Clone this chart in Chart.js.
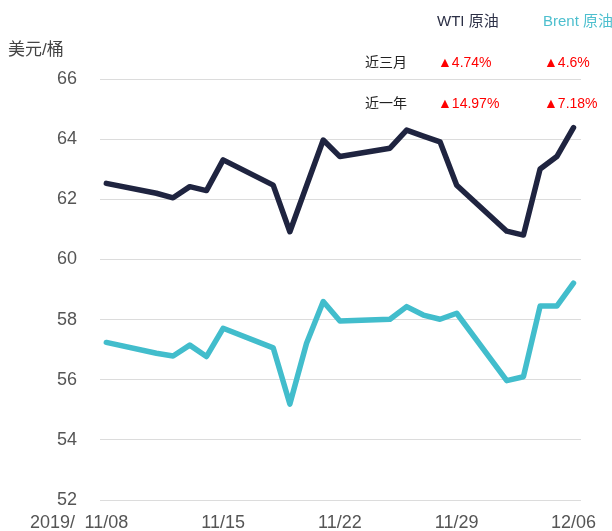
<!DOCTYPE html>
<html>
<head>
<meta charset="utf-8">
<script src="https://cdn.jsdelivr.net/npm/chart.js@4"></script>
<style>
  body { margin: 0; background: #fff; }
  #wrap { position: relative; width: 612px; height: 531px; font-family: "Liberation Sans", Arial, "Noto Sans CJK SC", sans-serif; }
  #wrap canvas { position: absolute; left: 0; top: 0; }
  .txt { position: absolute; line-height: 20px; height: 20px; white-space: nowrap; }
  .up { color: #ff0000; font-size: 14px; }
  .row { color: #222; font-size: 14px; }
</style>
</head>
<body>
<div id="wrap">
  <canvas id="oilChart" width="612" height="531"></canvas>
  <div class="txt" style="left:8px; top:40px; font-size:17px; color:#444;">美元/桶</div>
  <div class="txt" style="left:30px; top:512px; font-size:18px; color:#555;">2019/</div>
  <div class="txt" style="left:437px; top:11px; font-size:15px; color:#2b2f45;">WTI 原油</div>
  <div class="txt" style="left:543px; top:11px; font-size:15px; color:#4dbfce;">Brent 原油</div>
  <div class="txt row" style="left:365px; top:52px;">近三月</div>
  <div class="txt up" style="left:438px; top:52px;">▲4.74%</div>
  <div class="txt up" style="left:544px; top:52px;">▲4.6%</div>
  <div class="txt row" style="left:365px; top:93px;">近一年</div>
  <div class="txt up" style="left:438px; top:93px;">▲14.97%</div>
  <div class="txt up" style="left:544px; top:93px;">▲7.18%</div>
</div>
<script>
// trading days, 2019
const dates = ['11/08', '11/11', '11/12', '11/13', '11/14', '11/15', '11/18', '11/19', '11/20', '11/21', '11/22',
               '11/25', '11/26', '11/27', '11/28', '11/29', '12/02', '12/03', '12/04', '12/05', '12/06'];
const wti   = [62.53, 62.2, 62.05, 62.42, 62.29, 63.31, 62.47, 60.92, 62.45, 63.97, 63.42,
               63.70, 64.30, 64.1, 63.91, 62.47, 60.94, 60.81, 63.01, 63.42, 64.38];
const brent = [57.24, 56.88, 56.79, 57.15, 56.77, 57.71, 57.06, 55.19, 57.21, 58.6, 57.95,
               58.01, 58.43, 58.15, 58.01, 58.21, 55.97, 56.10, 58.45, 58.45, 59.21];
const tickLabels = ['11/08', '11/15', '11/22', '11/29', '12/06'];

// day offset from first date, so weekends keep their gap
function dayIndex(s) {
    const [m, d] = s.split('/').map(Number);
    const [m0, d0] = dates[0].split('/').map(Number);
    return Math.round((new Date(2019, m - 1, d) - new Date(2019, m0 - 1, d0)) / 86400000);
}
const toPoints = vals => vals.map((v, i) => ({ x: dayIndex(dates[i]), y: v }));

const ctx = document.getElementById('oilChart').getContext('2d');
new Chart(ctx, {
    type: 'line',
    data: {
        datasets: [{
            label: 'WTI 原油',
            data: toPoints(wti),
            borderColor: '#1f2440',
            borderWidth: 5.5,
            pointRadius: 0,
            tension: 0,
            borderCapStyle: 'round',
            borderJoinStyle: 'round'
        }, {
            label: 'Brent 原油',
            data: toPoints(brent),
            borderColor: '#42bdcc',
            borderWidth: 5.5,
            pointRadius: 0,
            tension: 0,
            borderCapStyle: 'round',
            borderJoinStyle: 'round'
        }]
    },
    options: {
        responsive: false,
        animation: false,
        layout: { padding: { top: 79, right: 31, left: 0, bottom: 0 } },
        plugins: {
            legend: { display: false },
            tooltip: { enabled: false }
        },
        scales: {
            x: {
                type: 'linear',
                min: -0.38,
                max: 28.45,
                grid: { display: false },
                border: { display: false },
                afterBuildTicks: scale => {
                    scale.ticks = tickLabels.map(t => ({ value: dayIndex(t) }));
                },
                afterFit: scale => { scale.height = 31; },
                ticks: {
                    autoSkip: false,
                    maxRotation: 0,
                    padding: 4,
                    color: '#555',
                    font: { size: 18, family: '"Liberation Sans", Arial, sans-serif' },
                    callback: v => tickLabels.find(t => dayIndex(t) === v) || ''
                }
            },
            y: {
                min: 52,
                max: 66,
                grid: { color: '#dcdcdc', lineWidth: 1, drawTicks: false },
                border: { display: false },
                afterFit: scale => {
                    scale.width = 100;
                    // tick padding would otherwise push the bottom of the plot up
                    scale.paddingTop = 11;
                    scale.paddingBottom = 11;
                },
                ticks: {
                    stepSize: 2,
                    padding: 23,
                    color: '#555',
                    font: { size: 18, family: '"Liberation Sans", Arial, sans-serif' }
                }
            }
        }
    }
});
</script>
</body>
</html>
